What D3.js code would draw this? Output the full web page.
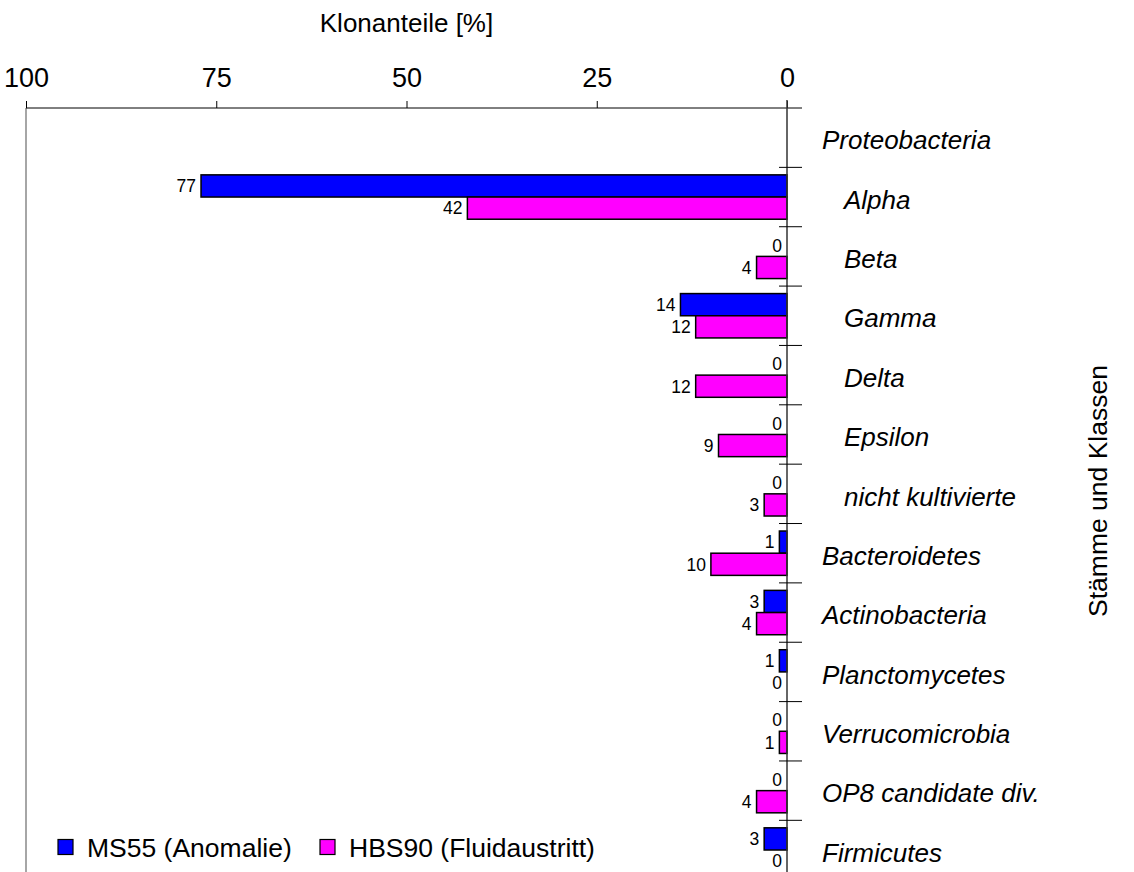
<!DOCTYPE html>
<html>
<head>
<meta charset="utf-8">
<script src="https://cdn.jsdelivr.net/npm/d3@7"></script>
<style>
  body { margin: 0; background: #fff; }
  svg { display: block; font-family: "Liberation Sans", Arial, sans-serif; }
</style>
</head>
<body>
<svg id="chart"></svg>
<script>
// Stämme / Klassen, top to bottom
const categories = [
  'Proteobacteria', 'Alpha', 'Beta', 'Gamma', 'Delta', 'Epsilon',
  'nicht kultivierte', 'Bacteroidetes', 'Actinobacteria', 'Planctomycetes',
  'Verrucomicrobia', 'OP8 candidate div.', 'Firmicutes'
]
// classes that sit below Proteobacteria
const subclasses = ['Alpha', 'Beta', 'Gamma', 'Delta', 'Epsilon', 'nicht kultivierte']

const seriesNames = ['MS55 (Anomalie)', 'HBS90 (Fluidaustritt)']
const ms55 = [null, 77, 0, 14, 0, 0, 0, 1, 3, 1, 0, 0, 3]
const hbs90 = [null, 42, 4, 12, 12, 9, 3, 10, 4, 0, 1, 4, 0]
const xTicks = [0, 25, 50, 75, 100]

const colors = ['#0000ff', '#ff00ff']
const width = 1134
const height = 872

const svg = d3.select('#chart')
  .attr('width', width)
  .attr('height', height)

// x runs from 100 on the left to 0 on the right
const xScale = d3.scaleLinear()
  .domain([0, 100])
  .range([787, 26])

const rowHeight = 59.36
const yScale = d3.scaleBand()
  .domain(categories)
  .range([108, 108 + rowHeight * categories.length])

const ySub = d3.scaleBand()
  .domain([0, 1])
  .range([7.5, rowHeight - 7.5])

// left frame line
svg.append('line')
  .attr('x1', xScale(100)).attr('x2', xScale(100))
  .attr('y1', 108).attr('y2', height)
  .attr('stroke', '#888')
  .attr('stroke-width', 1.5)

// top axis
const xAxis = d3.axisTop(xScale)
  .tickValues(xTicks)
  .tickSize(7)
  .tickPadding(14)
  .tickSizeOuter(0)

const gx = svg.append('g')
  .attr('transform', 'translate(0, 108)')
  .call(xAxis)

gx.select('.domain').remove()
gx.selectAll('.tick line').attr('stroke', '#000')
gx.selectAll('.tick text')
  .attr('font-size', 27)
  .attr('font-family', '"Liberation Sans", Arial, sans-serif')
  .attr('fill', '#000')

svg.append('line')
  .attr('x1', xScale(100)).attr('x2', 802)
  .attr('y1', 108).attr('y2', 108)
  .attr('stroke', '#000')

svg.append('text')
  .attr('x', xScale(50))
  .attr('y', 32)
  .attr('text-anchor', 'middle')
  .attr('font-size', 26)
  .text('Klonanteile [%]')

// bars
const rows = categories.map((c, i) => ({ cat: c, values: [ms55[i], hbs90[i]] }))

const rowG = svg.selectAll('.row')
  .data(rows)
  .join('g')
  .attr('class', 'row')
  .attr('transform', d => `translate(0, ${yScale(d.cat)})`)

const cells = rowG.selectAll('.cell')
  .data(d => d.values.map((v, k) => ({ v, k })).filter(e => e.v !== null))
  .join('g')
  .attr('class', 'cell')

cells.append('rect')
  .attr('x', e => xScale(e.v))
  .attr('y', e => ySub(e.k))
  .attr('width', e => xScale(0) - xScale(e.v))
  .attr('height', ySub.bandwidth())
  .attr('fill', e => colors[e.k])
  .attr('stroke', '#000')
  .attr('stroke-width', 1.5)
  .attr('display', e => e.v === 0 ? 'none' : null)

cells.append('text')
  .attr('x', e => xScale(e.v) - 5)
  .attr('y', e => ySub(e.k) + ySub.bandwidth() / 2)
  .attr('dy', '0.36em')
  .attr('text-anchor', 'end')
  .attr('font-size', 17.5)
  .text(e => e.v)

// zero line and category ticks
svg.append('line')
  .attr('x1', xScale(0)).attr('x2', xScale(0))
  .attr('y1', 100).attr('y2', height)
  .attr('stroke', '#333')
  .attr('stroke-width', 1.5)

svg.selectAll('.sep')
  .data(categories.slice(1))
  .join('line')
  .attr('class', 'sep')
  .attr('x1', 779).attr('x2', 802)
  .attr('y1', d => yScale(d)).attr('y2', d => yScale(d))
  .attr('stroke', '#000')

svg.selectAll('.cat')
  .data(categories)
  .join('text')
  .attr('class', 'cat')
  .attr('x', d => subclasses.includes(d) ? 844 : 822)
  .attr('y', d => yScale(d) + rowHeight / 2)
  .attr('dy', '0.45em')
  .attr('font-size', 26)
  .attr('font-style', 'italic')
  .text(d => d)

svg.append('text')
  .attr('transform', 'translate(1107, 491) rotate(-90)')
  .attr('text-anchor', 'middle')
  .attr('font-size', 26.5)
  .text('Stämme und Klassen')

// legend
const legend = svg.append('g')
  .attr('transform', 'translate(58, 847)')

const legendX = [0, 262]
seriesNames.forEach((name, k) => {
  const item = legend.append('g').attr('transform', `translate(${legendX[k]}, 0)`)
  item.append('rect')
    .attr('x', 0).attr('y', -7.5)
    .attr('width', 15).attr('height', 15)
    .attr('fill', colors[k])
    .attr('stroke', '#000')
    .attr('stroke-width', 1.2)
  item.append('text')
    .attr('x', 29)
    .attr('dy', '0.36em')
    .attr('font-size', 26.5)
    .text(name)
})
</script>
</body>
</html>
